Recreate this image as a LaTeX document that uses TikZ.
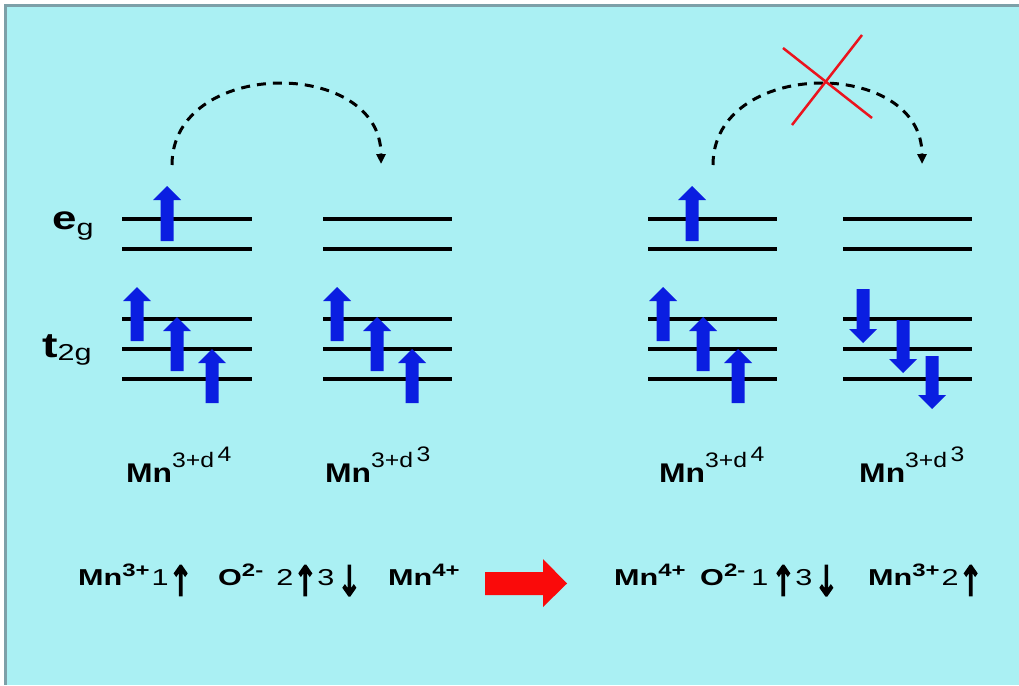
\documentclass[tikz,border=0pt]{standalone}
\usepackage{fontspec}
\setmainfont{Liberation Sans}
\newfontfamily\fa[FakeStretch=1.18]{Liberation Sans}
\newfontfamily\fb[FakeStretch=1.33]{Liberation Sans}
\newfontfamily\arrf[FakeBold=4.5]{DejaVu Sans}
\usetikzlibrary{arrows.meta}
\definecolor{bgc}{RGB}{170,240,243}
\definecolor{framec}{RGB}{125,160,168}
\definecolor{spinblue}{RGB}{10,30,225}
\definecolor{xred}{RGB}{235,20,30}
\definecolor{bigred}{RGB}{250,10,10}
\newcommand\spinup[3]{\fill[spinblue] (#1-6.5,#3) -- (#1+6.5,#3) -- (#1+6.5,#2+14) -- (#1+14,#2+14) -- (#1,#2) -- (#1-14,#2+14) -- (#1-6.5,#2+14) -- cycle;}
\newcommand\spindown[3]{\fill[spinblue] (#1-6.5,#2) -- (#1+6.5,#2) -- (#1+6.5,#3-14) -- (#1+14,#3-14) -- (#1,#3) -- (#1-14,#3-14) -- (#1-6.5,#3-14) -- cycle;}
\newcommand\levels[2]{%
  \foreach \yy in {219,249,319,349,379} {\draw[level] (#1,\yy) -- (#2,\yy);}}
\newcommand\dlabel[1]{{\fa\fontsize{27}{27}\selectfont\bfseries Mn}{\fa\fontsize{21}{21}\selectfont\raisebox{15pt}{3+d\,\raisebox{6pt}{#1}}}}
\newcommand\bsup[1]{\raisebox{9pt}{\fontsize{18}{18}\selectfont\bfseries #1}}
\newcommand\bfnt{\fb\fontsize{23}{23}\selectfont}
\newcommand\uarr{\raisebox{-10.5pt}{\scalebox{0.7}[1]{\arrf\fontsize{41}{41}\selectfont ↑}}}
\newcommand\darr{\raisebox{-10.5pt}{\scalebox{0.7}[1]{\arrf\fontsize{41}{41}\selectfont ↓}}}
\tikzset{
  level/.style={line width=3.5pt},
  hop/.style={line width=3pt, dash pattern=on 9pt off 7pt, -{Triangle[length=10pt,width=9pt]}},
  cross/.style={xred, line width=2.5pt},
  lbl/.style={anchor=base west, inner sep=0pt}
}
\begin{document}
\begin{tikzpicture}[x=1pt,y=-1pt]
\useasboundingbox (0,0) rectangle (1019,685);
\fill[white] (0,0) rectangle (1019,685);
\fill[framec] (4,4) rectangle (1019,685);
\fill[bgc] (7,7) rectangle (1019,685);

% energy levels
\levels{122}{252}
\levels{323}{452}
\levels{648}{777}
\levels{843}{972}

% spins block 1
\spinup{167}{186}{241}
\spinup{137}{287}{341}
\spinup{177}{317}{371}
\spinup{212}{349}{403}
% block 2
\spinup{337}{287}{341}
\spinup{377}{317}{371}
\spinup{412}{349}{403}
% block 3
\spinup{692}{186}{241}
\spinup{663}{287}{341}
\spinup{703}{317}{371}
\spinup{738}{349}{403}
% block 4
\spindown{863}{289}{343}
\spindown{903}{320}{373}
\spindown{932}{356}{409}

% hopping arcs
\coordinate (a1) at (172,165);
\coordinate (b1) at (381,164);
\coordinate (a2) at (713,165);
\coordinate (b2) at (922,164);
\draw[hop] (a1) .. controls +(0,-107) and +(0,-107) .. (b1);
\draw[hop] (a2) .. controls +(0,-107) and +(0,-107) .. (b2);

% red cross
\coordinate (x1) at (783,48);
\coordinate (x2) at (872,118);
\coordinate (x3) at (862,35);
\coordinate (x4) at (792,125);
\draw[cross] (x1) -- (x2);
\draw[cross] (x3) -- (x4);

% side labels
\node[lbl] (eg) at (52,229) {{\fb\fontsize{33}{33}\selectfont\bfseries e}{\fb\fontsize{23}{23}\selectfont\raisebox{-6pt}{g}}};
\node[lbl] (t2g) at (42,357) {{\fb\fontsize{35}{35}\selectfont\bfseries t}{\fb\fontsize{23}{23}\selectfont\raisebox{-3pt}{2g}}};

% ion labels
\node[lbl] (m1) at (126,482) {\dlabel{4}};
\node[lbl] (m2) at (325,482) {\dlabel{3}};
\node[lbl] (m3) at (659,482) {\dlabel{4}};
\node[lbl] (m4) at (859,482) {\dlabel{3}};

% bottom row
\node[lbl] (l1) at (78,585) {\bfnt\textbf{Mn}\bsup{3+}\hspace{2pt}1\uarr};
\node[lbl] (l2) at (218,585) {\bfnt\textbf{O}\bsup{2-}\hspace{13pt}2\uarr 3\hspace{3pt}\darr};
\node[lbl] (l3) at (388,585) {\bfnt\textbf{Mn}\bsup{4+}};
\fill[bigred] (485,572) -- (543,572) -- (543,559) -- (567,583.5) -- (543,607) -- (543,595) -- (485,595) -- cycle;
\node[lbl] (r1) at (614,585) {\bfnt\textbf{Mn}\bsup{4+}};
\node[lbl] (r2) at (700,585) {\bfnt\textbf{O}\bsup{2-}\hspace{6pt}1\hspace{3pt}\uarr 3\hspace{2pt}\darr};
\node[lbl] (r3) at (868,585) {\bfnt\textbf{Mn}\bsup{3+}\hspace{2pt}2\uarr};
\end{tikzpicture}
\end{document}
